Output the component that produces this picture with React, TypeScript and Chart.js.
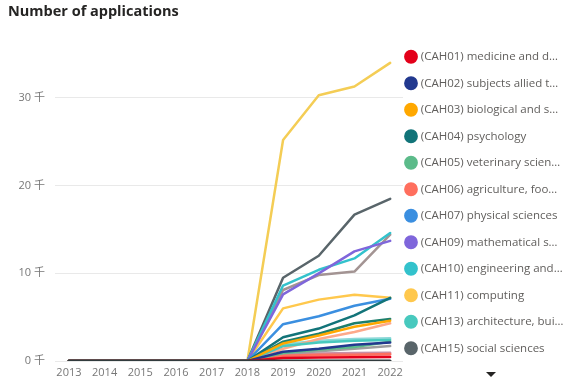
import React, { useEffect, useRef } from "react";
import { Chart, registerables } from "chart.js";

Chart.register(...registerables);

// ---- data (values in thousands of applications) ----
const years = ["2013", "2014", "2015", "2016", "2017", "2018", "2019", "2020", "2021", "2022"];

const seriesLabels = [
  "(CAH01) medicine and dentistry",
  "(CAH02) subjects allied to medicine",
  "(CAH03) biological and sport sciences",
  "(CAH04) psychology",
  "(CAH05) veterinary sciences",
  "(CAH06) agriculture, food and related studies",
  "(CAH07) physical sciences",
  "(CAH09) mathematical sciences",
  "(CAH10) engineering and technology",
  "(CAH11) computing",
  "(CAH13) architecture, building and planning",
  "(CAH15) social sciences",
  "(CAH16) law",
  "(CAH17) business and management",
  "(CAH19) language and area studies",
  "(CAH20) historical, philosophical and religious studies",
  "(CAH22) education and teaching",
  "(CAH23) combined and general studies",
  "(CAH24) media, journalism and communications",
  "(CAH25) design, and creative and performing arts",
  "(CAH26) geography, earth and environmental studies",
];

// legend text as shown (truncated) in the visible part of the legend
const legendText = [
  "(CAH01) medicine and d…",
  "(CAH02) subjects allied t…",
  "(CAH03) biological and s…",
  "(CAH04) psychology",
  "(CAH05) veterinary scien…",
  "(CAH06) agriculture, foo…",
  "(CAH07) physical sciences",
  "(CAH09) mathematical s…",
  "(CAH10) engineering and…",
  "(CAH11) computing",
  "(CAH13) architecture, bui…",
  "(CAH15) social sciences",
];

const cah01 = [0, 0, 0, 0, 0, 0, 0.35, 0.4, 0.42, 0.45];
const cah02 = [0, 0, 0, 0, 0, 0, 1.05, 1.4, 1.85, 2.1];
const cah03 = [0, 0, 0, 0, 0, 0, 2.0, 2.9, 3.9, 4.6];
const cah04 = [0, 0, 0, 0, 0, 0, 2.7, 3.7, 5.2, 7.2];
const cah05 = [0, 0, 0, 0, 0, 0, 0.9, 1.3, 1.6, 2.2];
const cah06 = [0, 0, 0, 0, 0, 0, 0.6, 0.7, 0.72, 0.8];
const cah07 = [0, 0, 0, 0, 0, 0, 4.2, 5.1, 6.3, 7.1];
const cah09 = [0, 0, 0, 0, 0, 0, 7.6, 10.0, 12.5, 13.7];
const cah10 = [0, 0, 0, 0, 0, 0, 8.6, 10.4, 11.7, 14.6];
const cah11 = [0, 0, 0, 0, 0, 0, 6.0, 7.0, 7.55, 7.2];
const cah13 = [0, 0, 0, 0, 0, 0, 1.7, 2.1, 2.3, 2.4];
const cah15 = [0, 0, 0, 0, 0, 0, 9.5, 12.0, 16.7, 18.5];
const cah16 = [0, 0, 0, 0, 0, 0, 8.1, 9.8, 10.2, 14.4];
const cah17 = [0, 0, 0, 0, 0, 0, 25.2, 30.3, 31.3, 34.0];
const cah19 = [0, 0, 0, 0, 0, 0, 1.4, 2.5, 3.3, 4.3];
const cah20 = [0, 0, 0, 0, 0, 0, 2.2, 3.1, 4.3, 4.8];
const cah22 = [0, 0, 0, 0, 0, 0, 1.9, 2.3, 2.5, 2.6];
const cah23 = [0, 0, 0, 0, 0, 0, 0.8, 1.1, 1.4, 1.7];
const cah24 = [0, 0, 0, 0, 0, 0, 0.7, 0.85, 0.9, 0.95];
const cah25 = [0, 0, 0, 0, 0, 0, 0.55, 0.65, 0.7, 0.75];
const cah26 = [0, 0, 0, 0, 0, 0, 0, 0, 0, 0];

const seriesValues = [
  cah01, cah02, cah03, cah04, cah05, cah06, cah07, cah09, cah10, cah11,
  cah13, cah15, cah16, cah17, cah19, cah20, cah22, cah23, cah24, cah25, cah26,
];

const seriesColors = [
  "#E3001A", "#22398F", "#FFA800", "#127479", "#5CBB8A", "#FF6F5E",
  "#3B8FE0", "#7F66DB", "#33C2CC", "#FFC84D", "#48C9BE", "#59656A",
  "#A39493", "#F4CD55", "#FDA98A", "#1E7F6C", "#8ED8D8", "#9E9E9E",
  "#C98DA5", "#F28E96", "#313B3D",
];

const yTicks = [0, 10, 20, 30];

const FONT = "'Open Sans', 'Noto Sans CJK SC', sans-serif";
const LEGEND_FONT_SIZE = 11.5;
const LEGEND_PAD = 15;
const LEGEND_BOX = 8;
const LEGEND_W = 171;

const shiftLegend = {
  id: "shiftLegend",
  afterLayout(chart: any) {
    const lg = chart.legend;
    if (!lg) return;
    lg.left -= 11;
    lg.right -= 11;
    lg.top += 36;
    lg.bottom += 36;
  },
};

export default function App() {
  const ref = useRef<HTMLCanvasElement>(null);

  useEffect(() => {
    if (!ref.current) return;
    const mctx = document.createElement("canvas").getContext("2d")!;
    mctx.font = `${LEGEND_FONT_SIZE}px ${FONT}`;
    const maxText = Math.max(...legendText.map((t) => mctx.measureText(t).width));
    const legendW = LEGEND_PAD + LEGEND_BOX + LEGEND_FONT_SIZE / 2 + maxText + 10;
    const padRight = Math.max(0, LEGEND_W - legendW);

    const datasets = seriesValues.map((vals, i) => ({
      label: seriesLabels[i],
      data: vals.map((v, j) => ({ x: Number(years[j]), y: v })),
      borderColor: seriesColors[i],
      backgroundColor: seriesColors[i],
      borderWidth: i === seriesValues.length - 1 ? 3 : 2.5,
      pointRadius: 0,
      pointHoverRadius: 0,
      borderJoinStyle: "round" as const,
      borderCapStyle: "round" as const,
      tension: 0,
      order: i === seriesValues.length - 1 ? -1 : 0,
    }));

    const chart = new Chart(ref.current, {
      type: "line",
      data: { datasets },
      plugins: [shiftLegend],
      options: {
        animation: false,
        responsive: true,
        maintainAspectRatio: false,
        layout: { padding: { left: 8, right: padRight, top: 0, bottom: 7 } },
        plugins: {
          title: {
            display: true,
            text: "Number of applications",
            align: "start",
            color: "#252423",
            font: { family: FONT, size: 14.5, weight: "bold" },
            padding: { top: 3, bottom: 3 },
          },
          tooltip: { enabled: false },
          legend: {
            display: true,
            position: "right",
            align: "start",
            maxWidth: LEGEND_W,
            labels: {
              usePointStyle: true,
              pointStyle: "circle",
              boxWidth: LEGEND_BOX,
              boxHeight: LEGEND_BOX,
              padding: LEGEND_PAD,
              color: "#605E5C",
              font: { family: FONT, size: LEGEND_FONT_SIZE },
              generateLabels: (chart: any) => {
                const items = Chart.defaults.plugins.legend.labels.generateLabels(chart);
                return items
                  .filter((it: any) => it.datasetIndex < legendText.length)
                  .map((it: any) => ({ ...it, text: legendText[it.datasetIndex] }));
              },
            },
          },
        },
        scales: {
          x: {
            type: "linear",
            min: 2012.61,
            max: 2022.36,
            grid: { display: false, drawTicks: false },
            border: { display: false },
            afterBuildTicks: (scale: any) => {
              scale.ticks = years.map((y) => ({ value: Number(y) }));
            },
            afterFit: (scale: any) => {
              scale.height = 20;
            },
            ticks: {
              autoSkip: false,
              maxRotation: 0,
              padding: 4.8,
              color: "#777777",
              font: { family: FONT, size: 11 },
              callback: (v: any) => String(v),
            },
          },
          y: {
            min: 0,
            max: 38.5,
            grid: { color: "#E9E9E9", drawTicks: false, lineWidth: 1 },
            border: { display: false },
            afterBuildTicks: (scale: any) => {
              scale.ticks = yTicks.map((v) => ({ value: v }));
            },
            afterFit: (scale: any) => {
              scale.width = 47;
            },
            ticks: {
              padding: 10,
              color: "#777777",
              font: { family: FONT, size: 11 },
              callback: (v: any) => `${v} 千`,
            },
          },
        },
      },
    });
    return () => chart.destroy();
  }, []);

  return (
    <div style={{ position: "absolute", left: 0, top: 0, width: 574, height: 388 }}>
      <canvas ref={ref} />
      <div
        style={{
          position: "absolute",
          left: 486,
          top: 372,
          width: 0,
          height: 0,
          borderLeft: "5.5px solid transparent",
          borderRight: "5.5px solid transparent",
          borderTop: "5px solid #252423",
        }}
      />
    </div>
  );
}
